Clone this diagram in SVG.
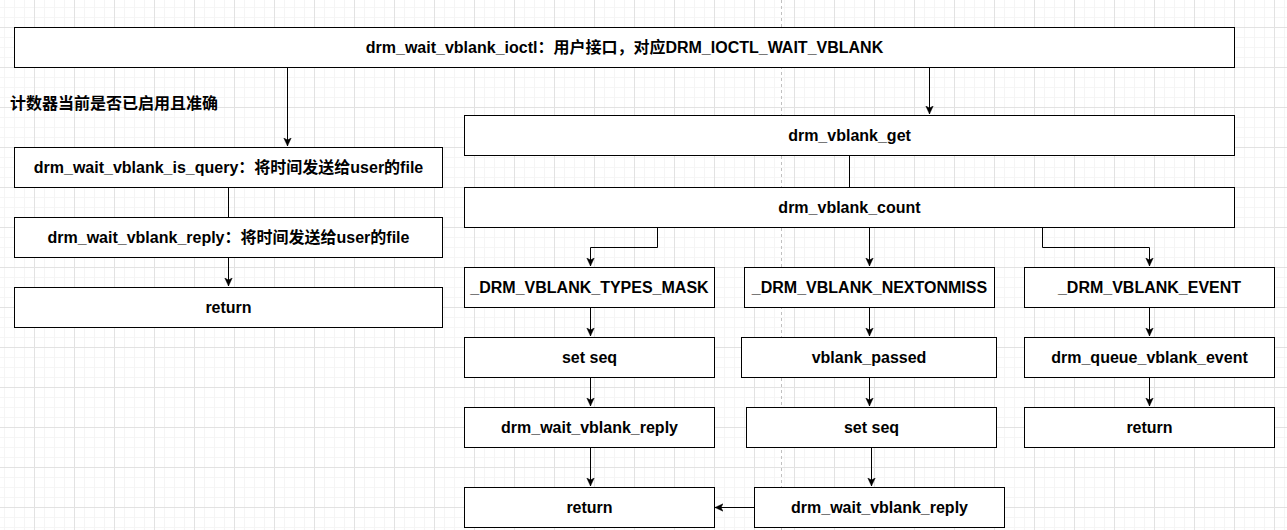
<svg xmlns="http://www.w3.org/2000/svg" width="1287" height="530" viewBox="0 0 1287 530">
<style>
.box{fill:#ffffff;stroke:#000000;stroke-width:1}
.t{font-family:"Liberation Sans","Noto Sans CJK SC",Arial,sans-serif;font-weight:bold;font-size:16px;fill:#000000;text-anchor:middle}
.lbl{font-family:"Liberation Sans","Noto Sans CJK SC",Arial,sans-serif;font-weight:bold;font-size:16px;fill:#000000}
.c{fill:none;stroke:#000000;stroke-width:1}
</style>
<defs>
<pattern id="grid" x="34" y="27" width="40" height="40" patternUnits="userSpaceOnUse">
<path d="M10.5,0V40M20.5,0V40M30.5,0V40M0,10.5H40M0,20.5H40M0,30.5H40" stroke="#f5f5f5" stroke-width="1" fill="none"/>
<path d="M0.5,0V40M0,0.5H40" stroke="#e2e2e2" stroke-width="1" fill="none"/>
</pattern>
<marker id="arr" markerWidth="9" markerHeight="9" refX="8" refY="4.5" orient="auto" markerUnits="userSpaceOnUse">
<path d="M0,0.8 L8,4.5 L0,8.2 L2,4.5 z" fill="#000000" stroke="#000000" stroke-width="0.5"/>
</marker>
</defs>
<rect width="1287" height="530" fill="#ffffff"/>
<rect width="1287" height="530" fill="url(#grid)"/>
<path d="M781.5,0V530" stroke="#c0c0c0" stroke-width="1" stroke-dasharray="3 3" fill="none"/>

<g id="connectors">
<path class="c" d="M287.5,67V146" marker-end="url(#arr)"/>
<path class="c" d="M929.5,67V114" marker-end="url(#arr)"/>
<path class="c" d="M228.5,187V217"/>
<path class="c" d="M228.5,257V286" marker-end="url(#arr)"/>
<path class="c" d="M849.5,155V187"/>
<path class="c" d="M657.5,227V247.5H590.5V266" marker-end="url(#arr)"/>
<path class="c" d="M869.5,227V266" marker-end="url(#arr)"/>
<path class="c" d="M1042.5,227V247.5H1149.5V266" marker-end="url(#arr)"/>
<path class="c" d="M590.5,307V336" marker-end="url(#arr)"/>
<path class="c" d="M590.5,377V406" marker-end="url(#arr)"/>
<path class="c" d="M590.5,447V486" marker-end="url(#arr)"/>
<path class="c" d="M869.5,307V336" marker-end="url(#arr)"/>
<path class="c" d="M869.5,377V406" marker-end="url(#arr)"/>
<path class="c" d="M871.5,447V486" marker-end="url(#arr)"/>
<path class="c" d="M1149.5,307V336" marker-end="url(#arr)"/>
<path class="c" d="M1149.5,377V406" marker-end="url(#arr)"/>
<path class="c" d="M754,507.5H715" marker-end="url(#arr)"/>
</g>

<g id="ioctl"><rect class="box" x="14.5" y="27.5" width="1220" height="40"/><text class="t" x="624.5" y="53">drm_wait_vblank_ioctl：用户接口，对应DRM_IOCTL_WAIT_VBLANK</text></g>
<g id="note"><text class="lbl" x="10" y="109">计数器当前是否已启用且准确</text></g>
<g id="is_query"><rect class="box" x="14.5" y="147.5" width="428" height="40"/><text class="t" x="228.5" y="173">drm_wait_vblank_is_query：将时间发送给user的file</text></g>
<g id="reply_left"><rect class="box" x="14.5" y="217.5" width="428" height="40"/><text class="t" x="228.5" y="243">drm_wait_vblank_reply：将时间发送给user的file</text></g>
<g id="return_left"><rect class="box" x="14.5" y="287.5" width="428" height="40"/><text class="t" x="228.5" y="313">return</text></g>

<g id="vblank_get"><rect class="box" x="464.5" y="115.5" width="770" height="40"/><text class="t" x="849.5" y="141">drm_vblank_get</text></g>
<g id="vblank_count"><rect class="box" x="464.5" y="187.5" width="770" height="40"/><text class="t" x="849.5" y="213">drm_vblank_count</text></g>

<g id="types_mask"><rect class="box" x="464.5" y="267.5" width="250" height="40"/><text class="t" x="589.5" y="293">_DRM_VBLANK_TYPES_MASK</text></g>
<g id="nextonmiss"><rect class="box" x="744.5" y="267.5" width="250" height="40"/><text class="t" x="869.5" y="293">_DRM_VBLANK_NEXTONMISS</text></g>
<g id="event"><rect class="box" x="1024.5" y="267.5" width="250" height="40"/><text class="t" x="1149.5" y="293">_DRM_VBLANK_EVENT</text></g>

<g id="set_seq_1"><rect class="box" x="464.5" y="337.5" width="250" height="40"/><text class="t" x="589.5" y="363">set seq</text></g>
<g id="vblank_passed"><rect class="box" x="741.5" y="337.5" width="255" height="40"/><text class="t" x="869" y="363">vblank_passed</text></g>
<g id="queue_event"><rect class="box" x="1024.5" y="337.5" width="250" height="40"/><text class="t" x="1149.5" y="363">drm_queue_vblank_event</text></g>

<g id="reply_1"><rect class="box" x="464.5" y="407.5" width="250" height="40"/><text class="t" x="589.5" y="433">drm_wait_vblank_reply</text></g>
<g id="set_seq_2"><rect class="box" x="746.5" y="407.5" width="250" height="40"/><text class="t" x="871.5" y="433">set seq</text></g>
<g id="return_event"><rect class="box" x="1024.5" y="407.5" width="250" height="40"/><text class="t" x="1149.5" y="433">return</text></g>

<g id="return_1"><rect class="box" x="464.5" y="487.5" width="250" height="40"/><text class="t" x="589.5" y="513">return</text></g>
<g id="reply_2"><rect class="box" x="754.5" y="487.5" width="250" height="40"/><text class="t" x="879.5" y="513">drm_wait_vblank_reply</text></g>
</svg>
